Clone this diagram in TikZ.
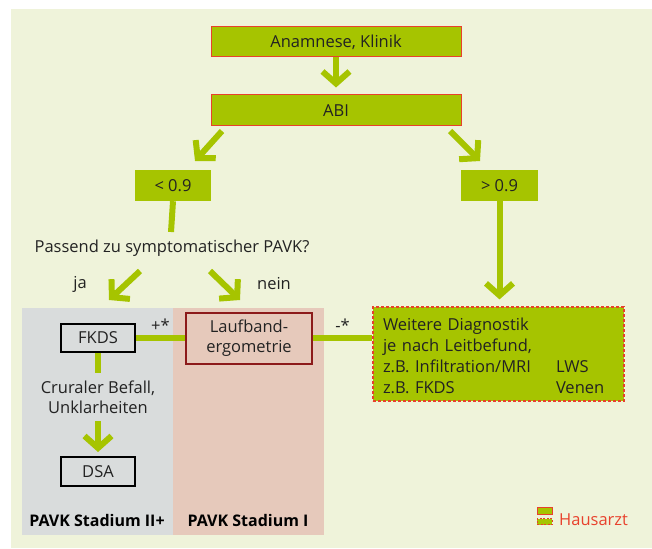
\documentclass[tikz,border=0pt]{standalone}
\usepackage{fontspec}
\setmainfont{Open Sans}
\usetikzlibrary{arrows.meta}

\definecolor{panel}{HTML}{EFF3DA}
\definecolor{lime}{HTML}{A6C400}
\definecolor{boxred}{HTML}{E8412C}
\definecolor{darkred}{HTML}{8C1A1A}
\definecolor{grayzone}{HTML}{D9DCDC}
\definecolor{pinkzone}{HTML}{E6C9BB}
\definecolor{txt}{HTML}{222222}

\tikzset{
  every node/.style={text=txt, font=\fontsize{16.5}{19}\selectfont},
  greenbox/.style={draw=boxred, line width=1pt, fill=lime, inner sep=0pt},
  dashbox/.style={draw=boxred, line width=1.2pt, dash pattern=on 3pt off 2pt, fill=lime},
  whitebox/.style={draw=black, line width=1.6pt, inner sep=0pt, minimum width=74pt, minimum height=28pt},
  redbox/.style={draw=darkred, line width=1.6pt, inner sep=0pt, align=center},
  arr/.style={draw=lime, line width=6pt, -{Straight Barb[length=12pt, width=27pt, line width=6pt]}},
  conn/.style={draw=lime, line width=6pt},
  stage/.style={font=\fontsize{16}{19}\selectfont\bfseries, text=black},
}

\begin{document}
\begin{tikzpicture}[x=1pt, y=-1pt]
  % background panel
  \path[use as bounding box] (0,0) rectangle (652,548);
  \fill[panel] (11,9) rectangle (652,548);

  % stage zones
  \fill[grayzone] (22,308) rectangle (173,535);
  \fill[pinkzone] (173,308) rectangle (324,535);

  % boxes
  \node[greenbox, minimum width=250pt, minimum height=30pt] (anam) at (336,42) {Anamnese, Klinik};
  \node[greenbox, minimum width=250pt, minimum height=31pt] (abi) at (336,110.5) {ABI};
  \node[fill=lime, inner sep=0pt, minimum width=76pt, minimum height=31pt] (lt) at (173,185.5) {< 0.9};
  \node[fill=lime, inner sep=0pt, minimum width=77pt, minimum height=31pt] (gt) at (499.5,185.5) {> 0.9};

  \node (q) at (172,248) {Passend zu symptomatischer PAVK?};
  \node (ja) at (80,284) {ja};
  \node (nein) at (274,284) {nein};

  \node[whitebox] (fkds) at (98,338) {FKDS};
  \node[redbox, minimum width=126pt, minimum height=51pt] (lauf) at (249,338.5) {Laufband-\\[1pt]ergometrie};
  \node[align=center] (crural) at (98,397) {Cruraler Befall,\\[1pt]Unklarheiten};
  \node[whitebox, minimum height=29pt] (dsa) at (98,471.5) {DSA};

  \node[dashbox, minimum width=251pt, minimum height=94pt, inner xsep=10pt, inner ysep=0pt, text width=231pt] (weiter) at (498.5,354)
    {\fontsize{16.5}{21}\selectfont
     \raisebox{-4pt}[\height][\depth]{\begin{tabular}{@{}p{173pt}@{}l@{}}
       Weitere Diagnostik & \\
       je nach Leitbefund, & \\
       z.B. Infiltration/MRI & LWS\\
       z.B. FKDS & Venen
     \end{tabular}}};

  \node[stage] (st2) at (97,520) {PAVK Stadium II+};
  \node[stage] (st1) at (248,520) {PAVK Stadium I};

  % arrow end points
  \coordinate (d1s) at (222,131);
  \coordinate (d1e) at (195,161);
  \coordinate (d2s) at (450,131);
  \coordinate (d2e) at (480,161);
  \coordinate (jas) at (140,271);
  \coordinate (jae) at (109,300);
  \coordinate (ns) at (210,271);
  \coordinate (ne) at (240,300);
  \coordinate (ltend) at (171,232);
  \coordinate (fkend) at (98,373);
  \coordinate (crs) at (98,421);
  \coordinate (cre) at (98,452);

  % connectors
  \draw[arr, shorten >=7pt] (anam.south) -- (abi.north);
  \draw[arr] (d1s) -- (d1e);
  \draw[arr] (d2s) -- (d2e);
  \draw[conn] (lt.south) -- (ltend);
  \draw[arr, shorten >=7pt] (gt.south) -- (weiter.north -| gt.south);
  \draw[arr] (jas) -- (jae);
  \draw[arr] (ns) -- (ne);
  \draw[conn] (fkds.east) -- (lauf.west |- fkds.east) node[midway, above=4pt, inner sep=0pt] {+*};
  \draw[conn] (lauf.east |- fkds.east) -- (weiter.west |- fkds.east) node[midway, above=4pt, inner sep=0pt] {-*};
  \draw[conn] (fkds.south) -- (fkend);
  \draw[arr] (crs) -- (cre);

  % legend
  \node[greenbox, minimum width=15pt, minimum height=7pt] (lg1) at (544.5,510.5) {};
  \node[dashbox, line width=1pt, dash pattern=on 2pt off 1.5pt, inner sep=0pt, minimum width=15pt, minimum height=6pt] (lg2) at (544.5,521.5) {};
  \node[anchor=west, text=boxred, inner sep=0pt] (haus) at (559,520) {Hausarzt};
\end{tikzpicture}
\end{document}
